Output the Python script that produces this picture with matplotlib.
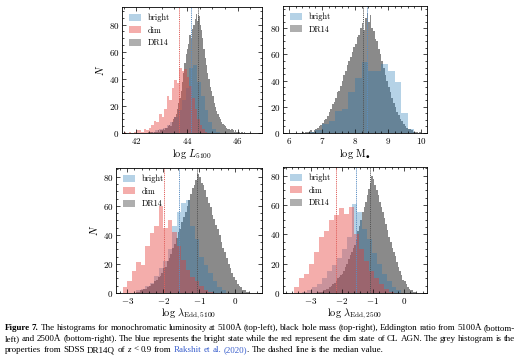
import matplotlib
matplotlib.use("Agg")
import matplotlib.pyplot as plt
import numpy as np
from matplotlib.ticker import MultipleLocator, AutoMinorLocator
from matplotlib.patches import Patch

plt.rcParams['font.family'] = 'serif'
plt.rcParams['font.serif'] = ['cmr10', 'DejaVu Serif']
plt.rcParams['mathtext.fontset'] = 'cm'
plt.rcParams['axes.formatter.use_mathtext'] = True

# ---- data (bin start, bin width, counts) ----
# top-left: log L5100
tl_dim_start, tl_dim_w = 41.5, 0.1
tl_dim = [1, 0, 1, 0, 1, 2, 2, 1, 3, 2, 4, 6, 9, 8, 14, 12, 18, 27, 24, 33,
          39, 37, 48, 46, 47, 41, 35, 26, 18, 10, 6, 3, 1]
tl_bright_start, tl_bright_w = 42.6, 0.15
tl_bright = [1, 2, 3, 4, 6, 8, 12, 17, 24, 33, 48, 50, 38, 27, 17, 8, 3, 1]
tl_dr14_start, tl_dr14_w = 42.4, 0.05
tl_dr14 = [0, 1, 0, 1, 1, 0, 1, 1, 1, 2, 1, 2, 2, 3, 2, 4,
           4, 5, 6, 5, 8, 10, 12, 14, 18, 22, 26, 31, 38, 44, 52, 58,
           62, 66, 72, 70, 77, 80, 84, 88, 83, 86, 80, 76, 70, 62, 55, 50,
           44, 40, 34, 31, 27, 22, 19, 16, 14, 12, 10, 8, 7, 6, 5, 4,
           3, 3, 2, 3, 2, 1, 2, 1, 1, 1, 0, 1, 0, 1, 0, 0]

# top-right: log M_BH
tr_bright_start, tr_bright_w = 6.6, 0.2
tr_bright = [1, 2, 7, 9, 17, 18, 31, 42, 54, 47, 47, 53, 47, 39, 15, 3]
tr_dr14_start, tr_dr14_w = 6.3, 0.05
tr_dr14 = [0, 0, 1, 0, 1, 1, 1, 2, 1, 2, 3, 4, 5, 6, 8, 10,
           11, 13, 16, 18, 22, 24, 27, 31, 32, 36, 40, 44, 47, 52, 55, 58,
           62, 66, 68, 73, 75, 80, 84, 79, 88, 92, 85, 90, 80, 78, 72, 70,
           64, 60, 55, 50, 44, 40, 35, 31, 27, 23, 20, 16, 14, 11, 9, 7,
           5, 4, 3, 3, 2, 1, 1, 1, 0, 1]

# bottom-left: log lambda_Edd,5100
bl_dim_start, bl_dim_w = -3.125, 0.125
bl_dim = [4, 8, 15, 21, 19, 32, 41, 46, 60, 45, 50, 42, 32, 23, 16, 11, 8, 5, 2, 1]
bl_bright_start, bl_bright_w = -2.75, 0.125
bl_bright = [2, 3, 5, 7, 12, 17, 22, 30, 46, 56, 62, 64, 46, 37, 25, 19, 14, 8, 4, 2]
bl_dr14_start, bl_dr14_w = -2.8, 0.05
bl_dr14 = [0, 1, 1, 2, 2, 3, 3, 4, 5, 6, 6, 8, 9, 11, 12, 14,
           17, 18, 22, 24, 27, 31, 34, 38, 42, 44, 49, 52, 56, 60, 64, 68,
           72, 74, 78, 82, 80, 76, 74, 71, 66, 62, 59, 54, 51, 47, 44, 40,
           35, 31, 28, 24, 20, 17, 14, 11, 9, 6, 5, 4, 2, 2, 1, 1, 0]

# bottom-right: log lambda_Edd,2500
br_dim_start, br_dim_w = -3.52, 0.16
br_dim = [4, 10, 13, 20, 28, 38, 42, 50, 53, 58, 54, 59, 40, 30, 22, 15, 10, 6, 3, 1]
br_bright_start, br_bright_w = -3.28, 0.16
br_bright = [1, 2, 4, 6, 10, 15, 19, 24, 30, 38, 61, 55, 44, 37, 27, 20, 13, 8, 4, 2]
br_dr14_start, br_dr14_w = -2.8, 0.05
br_dr14 = [0, 1, 1, 1, 2, 2, 3, 3, 4, 5, 6, 7, 8, 10, 11, 12,
           13, 15, 18, 20, 23, 26, 28, 31, 33, 37, 42, 46, 50, 55, 59, 62,
           67, 71, 75, 80, 78, 74, 70, 67, 62, 59, 55, 51, 47, 43, 38, 35,
           31, 28, 25, 21, 18, 15, 12, 9, 8, 6, 4, 3, 2, 2, 1, 1, 0]

# medians (dashed lines)
tl_med = {'bright': 44.15, 'dim': 43.70, 'DR14': 44.42}
tr_med = {'bright': 8.37, 'DR14': 8.24}
bl_med = {'bright': -1.56, 'dim': -1.97, 'DR14': -1.06}
br_med = {'bright': -1.54, 'dim': -2.19, 'DR14': -1.09}

c_bright = '#1f77b4'
c_dim = '#e63c37'
c_grey = '#4d4d4d'


def edges(start, w, vals):
    return start + w * np.arange(len(vals) + 1)


def panel(ax, dr14, bright, dim, med, xlim, ylim, xlabel, ylabel, xmaj):
    e = edges(*dr14)
    ax.bar(e[:-1], dr14[2], width=dr14[1], align='edge', color=c_grey,
           alpha=0.66, lw=0)
    e = edges(*bright)
    ax.bar(e[:-1], bright[2], width=bright[1], align='edge', color=c_bright,
           alpha=0.33, lw=0)
    if dim is not None:
        e = edges(*dim)
        ax.bar(e[:-1], dim[2], width=dim[1], align='edge', color=c_dim,
               alpha=0.42, lw=0)
    cols = {'bright': '#5b8fc4', 'dim': '#e0605c', 'DR14': '#555555'}
    for k, v in med.items():
        ax.axvline(v, color=cols[k], lw=0.7, ls=(0, (1.2, 1.0)))
    ax.set_xlim(*xlim)
    ax.set_ylim(*ylim)
    ax.xaxis.set_major_locator(MultipleLocator(xmaj))
    ax.xaxis.set_minor_locator(AutoMinorLocator(4 if xmaj == 2 else 5))
    ax.yaxis.set_major_locator(MultipleLocator(20))
    ax.yaxis.set_minor_locator(AutoMinorLocator(4))
    ax.tick_params(which='both', direction='in', top=True, right=True,
                   labelsize=6.5, width=0.5, pad=2)
    ax.tick_params(which='major', length=3)
    ax.tick_params(which='minor', length=1.5)
    for s in ax.spines.values():
        s.set_linewidth(0.6)
    ax.set_xlabel(xlabel, fontsize=7.5, labelpad=1)
    if ylabel:
        ax.set_ylabel(ylabel, fontsize=7.5, labelpad=2)
    handles = [Patch(color=c_bright, alpha=0.33, lw=0, label='bright')]
    if dim is not None:
        handles.append(Patch(color=c_dim, alpha=0.42, lw=0, label='dim'))
    handles.append(Patch(color=c_grey, alpha=0.45, lw=0, label='DR14'))
    ax.legend(handles=handles, loc='upper left', frameon=False, fontsize=6,
              handlelength=1.5, handleheight=0.9, handletextpad=0.8,
              labelspacing=0.5, borderaxespad=0.4)


fig = plt.figure(figsize=(5.2, 3.6), dpi=100)
ax_tl = fig.add_axes([0.2346, 0.6306, 0.2692, 0.35])
ax_tr = fig.add_axes([0.5442, 0.6306, 0.2769, 0.3528])
ax_bl = fig.add_axes([0.2231, 0.1861, 0.2808, 0.3472])
ax_br = fig.add_axes([0.5442, 0.1861, 0.2769, 0.35])

panel(ax_tl, (tl_dr14_start, tl_dr14_w, tl_dr14),
      (tl_bright_start, tl_bright_w, tl_bright),
      (tl_dim_start, tl_dim_w, tl_dim), tl_med,
      (41.44, 46.96), (0, 93), r'$\log\,L_{5100}$', r'$N$', 2)
panel(ax_tr, (tr_dr14_start, tr_dr14_w, tr_dr14),
      (tr_bright_start, tr_bright_w, tr_bright), None, tr_med,
      (5.82, 10.18), (0, 97), r'$\log\,{\rm M}_{\bullet}$', None, 1)
panel(ax_bl, (bl_dr14_start, bl_dr14_w, bl_dr14),
      (bl_bright_start, bl_bright_w, bl_bright),
      (bl_dim_start, bl_dim_w, bl_dim), bl_med,
      (-3.31, 0.75), (0, 86), r'$\log\,\lambda_{\rm Edd,5100}$', r'$N$', 1)
panel(ax_br, (br_dr14_start, br_dr14_w, br_dr14),
      (br_bright_start, br_bright_w, br_bright),
      (br_dim_start, br_dim_w, br_dim), br_med,
      (-3.89, 0.74), (0, 86), r'$\log\,\lambda_{\rm Edd,2500}$', None, 1)

# ---- caption, justified word by word ----
cap_fs = 6.45
cap_font = 'Liberation Serif'
renderer = fig.canvas.get_renderer()
B = {'fontweight': 'bold'}
N = {}
I = {'fontstyle': 'italic'}
L = {'color': '#3a5fcd'}

line1 = [('Figure', B), ('7.', B)] + [(w, N) for w in
         'The histograms for monochromatic luminosity at 5100Å (top-left), black hole mass (top-right), Eddington ratio from 5100Å (bottom-'.split()]
line2 = [(w, N) for w in
         'left) and 2500Å (bottom-right). The blue represents the bright state while the red represent the dim state of CL AGN. The grey histogram is the'.split()]
line3 = [(w, N) for w in 'properties from SDSS DR14Q of'.split()] + \
        [('z', I), ('<', N), ('0.9', N), ('from', N), ('Rakshit', L), ('et', L),
         ('al.', L), ('(2020)', L), ('.', dict(glue=True))] + \
        [(w, N) for w in 'The dashed line is the median value.'.split()]


def caption_line(tokens, y, justify, x0=5 / 520, x1=515 / 520):
    texts, glue = [], []
    for s, kw in tokens:
        kw = dict(kw)
        glue.append(kw.pop('glue', False))
        texts.append(fig.text(0, y, s, fontsize=cap_fs, family=cap_font,
                              va='baseline', **kw))
    W = fig.bbox.width
    widths = [t.get_window_extent(renderer).width / W for t in texts]
    ngaps = sum(1 for g in glue[1:] if not g)
    if justify:
        gap = (x1 - x0 - sum(widths)) / ngaps
    else:
        sp = fig.text(0, 0, 'a b', fontsize=cap_fs, family=cap_font)
        sp2 = fig.text(0, 0, 'ab', fontsize=cap_fs, family=cap_font)
        gap = (sp.get_window_extent(renderer).width -
               sp2.get_window_extent(renderer).width) / W
        sp.remove()
        sp2.remove()
    x = x0
    for i, t in enumerate(texts):
        if i > 0 and not glue[i]:
            x += gap
        t.set_x(x)
        x += widths[i]


caption_line(line1, 1 - 330 / 360, True)
caption_line(line2, 1 - 341 / 360, True)
caption_line(line3, 1 - 352 / 360, False)

fig.savefig('out.png', dpi=100)
